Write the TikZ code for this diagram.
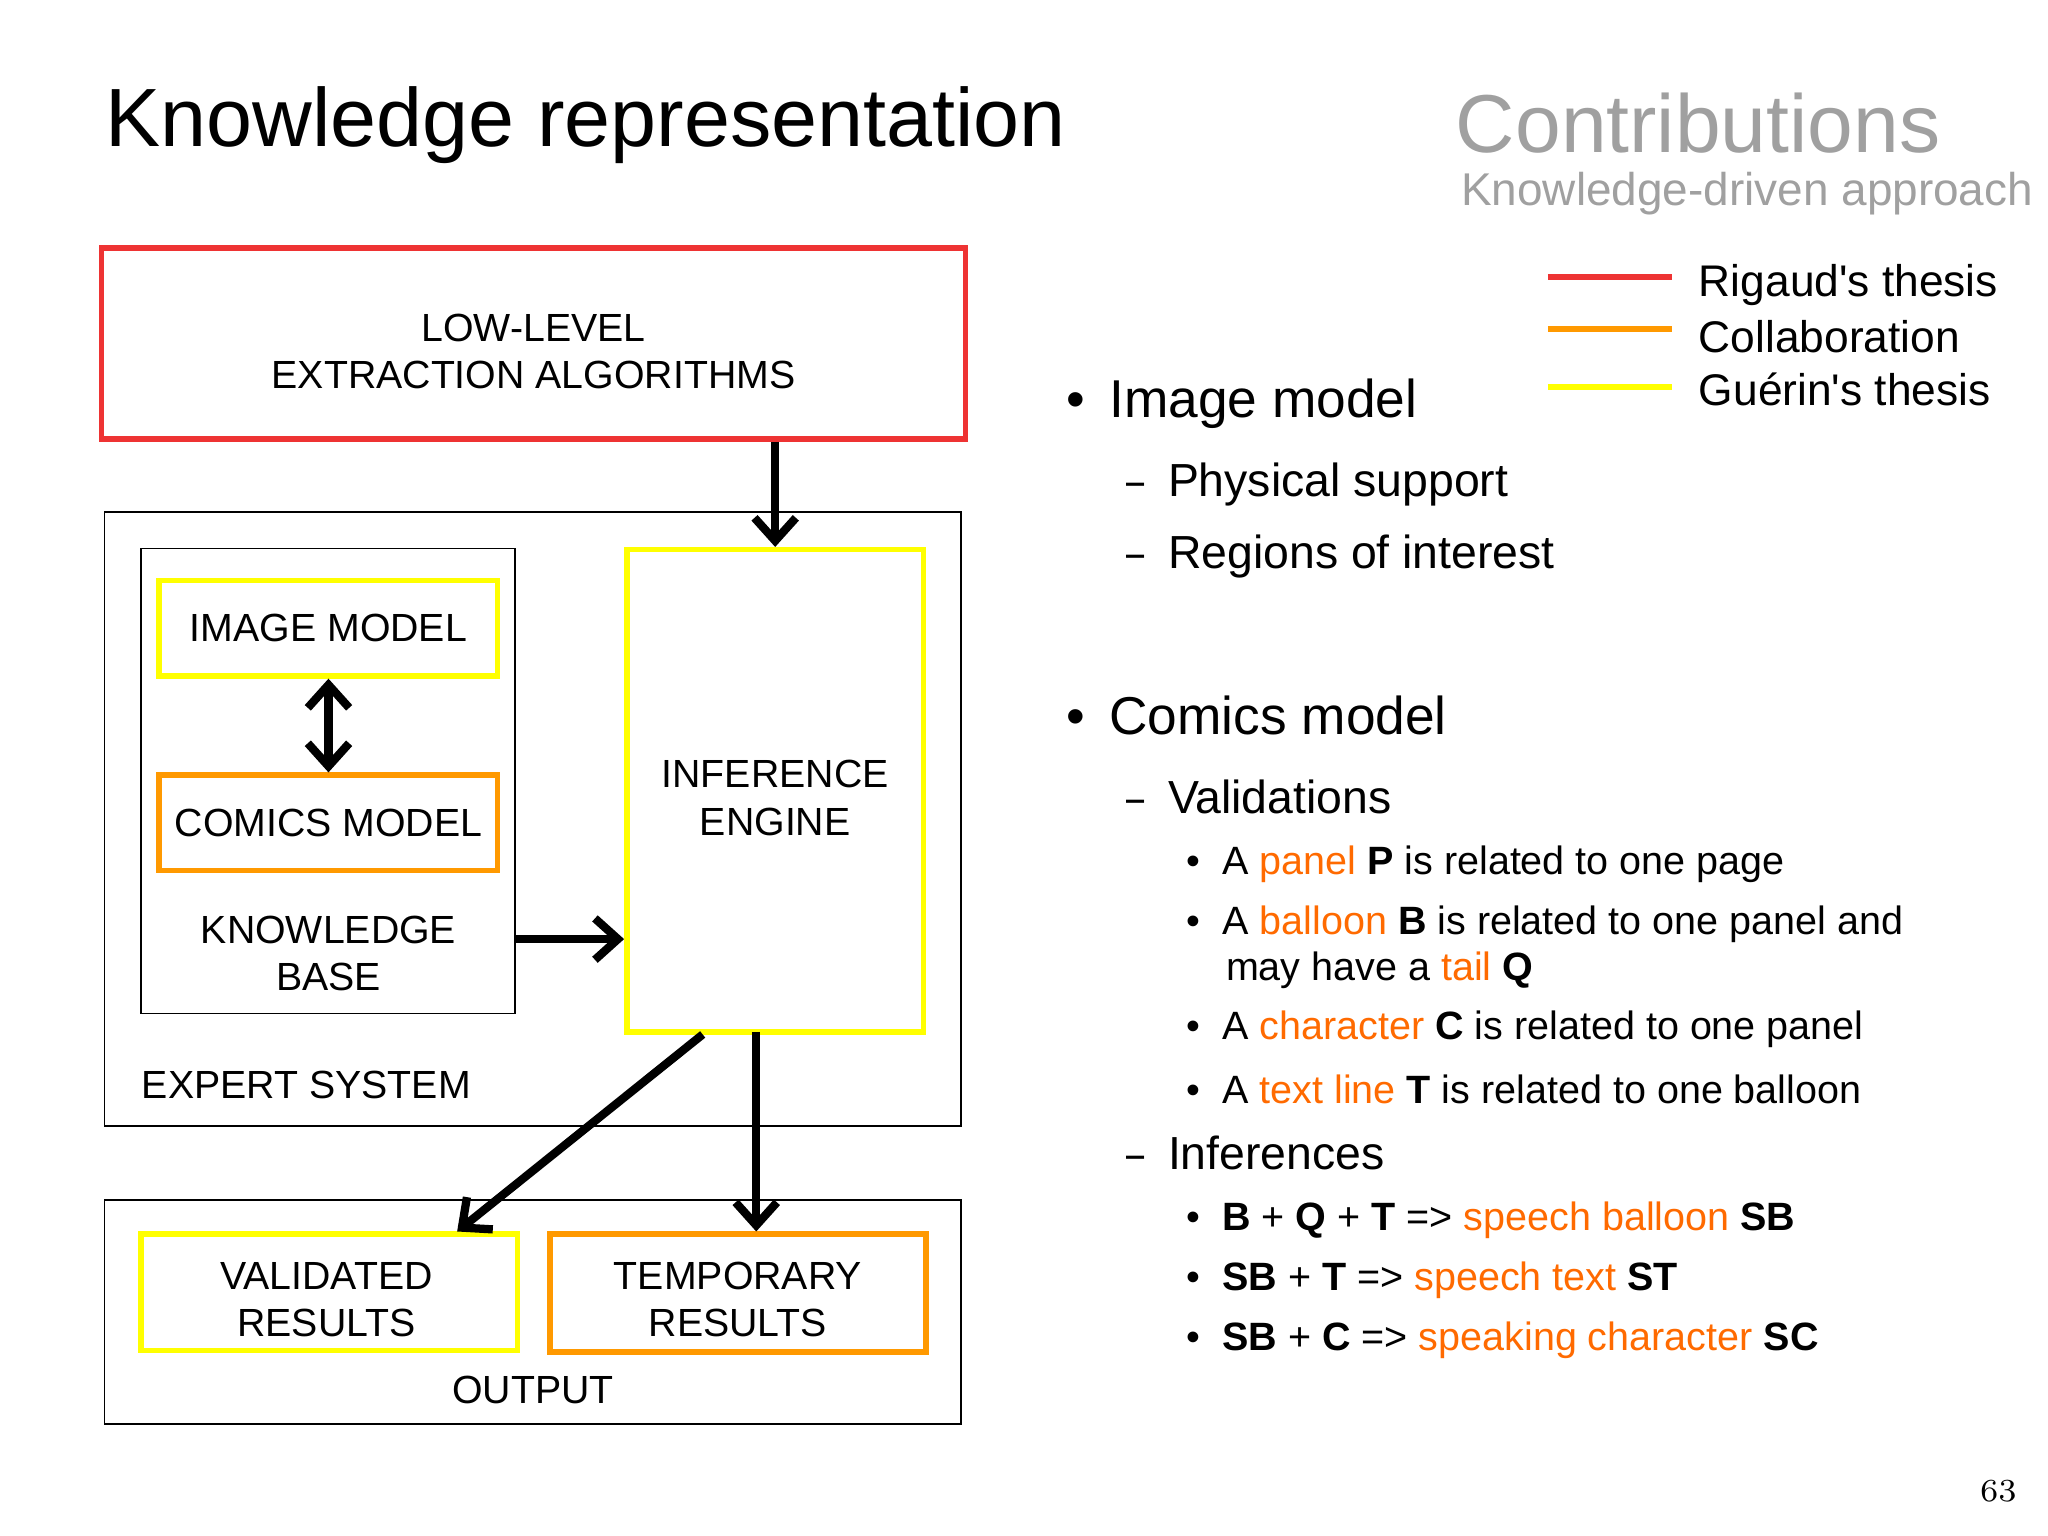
\documentclass[tikz,border=0pt]{standalone}
\usepackage{fontspec}
\setmainfont{Liberation Sans}
\usetikzlibrary{arrows.meta}
\definecolor{cred}{HTML}{EE3333}
\definecolor{cyel}{HTML}{FFFF00}
\definecolor{corg}{HTML}{FF9900}
\definecolor{cword}{HTML}{FF6A00}
\definecolor{cgray}{HTML}{A0A0A0}
\newcommand{\hl}[1]{\textcolor{cword}{#1}}
\begin{document}
\begin{tikzpicture}[x=0.01cm,y=-0.01cm,
  box/.style={draw, inner sep=0, align=center, font=\fontsize{8.55}{10.3}\selectfont},
  thinbox/.style={draw=black, line width=0.4pt},
  redbox/.style={draw=cred, line width=1.2pt},
  yelbox/.style={draw=cyel, line width=1.2pt},
  orgbox/.style={draw=corg, line width=1.2pt},
  arr/.style={line width=1.8pt, -{Straight Barb[length=5pt,width=9pt]}},
  txt/.style={anchor=west, inner sep=0},
  lvl1/.style={txt, font=\fontsize{11.6}{14}\selectfont},
  lvl2/.style={txt, font=\fontsize{10.1}{12}\selectfont},
  lvl3/.style={txt, font=\fontsize{8.6}{10.3}\selectfont, align=left},
  lab/.style={font=\fontsize{8.55}{10.3}\selectfont, inner sep=0, align=center}]
\useasboundingbox (0,0) rectangle (1568,1176);
% title
\node[txt, font=\fontsize{18}{20}\selectfont] (title) at (80,96) {Knowledge representation};
\node[txt, text=cgray, font=\fontsize{17.9}{20}\selectfont] (contrib) at (1114,94) {Contributions};
\node[txt, text=cgray, font=\fontsize{10}{12}\selectfont] (sub) at (1118,148) {Knowledge-driven approach};
% boxes
\draw[thinbox] (80,392) rectangle (736,862);
\draw[thinbox] (108,420) rectangle (394,776);
\draw[thinbox] (80,919) rectangle (736,1090);
\node[redbox, minimum width=6.61cm, minimum height=1.46cm] (low) at (408.5,263) {};
\node[lab] (lowtxt) at (408.5,269) {LOW-LEVEL\\EXTRACTION ALGORITHMS};
\node[box, yelbox, minimum width=2.59cm, minimum height=0.73cm] (img) at (251.5,481) {IMAGE MODEL};
\node[box, orgbox, minimum width=2.59cm, minimum height=0.73cm] (com) at (251.5,630) {COMICS MODEL};
\node[box, yelbox, minimum width=2.27cm, minimum height=3.69cm] (inf) at (593.5,605.5) {};
\node[lab] (inftxt) at (593.5,611) {INFERENCE\\ENGINE};
\node[yelbox, minimum width=2.88cm, minimum height=0.89cm] (val) at (252,989.5) {};
\node[lab] (valtxt) at (250,995) {VALIDATED\\RESULTS};
\node[orgbox, minimum width=2.88cm, minimum height=0.9cm] (tmp) at (565,990) {};
\node[lab] (tmptxt) at (565,995) {TEMPORARY\\RESULTS};
\node[lab] (kb) at (251.5,730) {KNOWLEDGE\\BASE};
\node[lab, anchor=west] (es) at (108,831) {EXPERT SYSTEM};
\node[lab] (out) at (408,1064) {OUTPUT};
\coordinate (kbr) at (394,719);
\coordinate (infb1) at (538,792);
\coordinate (infb2) at (579,790);
% arrows
\draw[arr] (low.south -| inf.north) -- (inf.north);
\draw[line width=1.8pt, {Straight Barb[length=5pt,width=9pt]}-{Straight Barb[length=5pt,width=9pt]}] (img.south) -- (com.north);
\draw[arr] (kbr) -- (kbr -| inf.west);
\draw[arr] (infb1) -- (val.north -| 350,0);
\draw[arr] (infb2) -- (infb2 |- tmp.north);
% legend
\draw[cred, line width=1.3pt] (1185,212) -- (1280,212);
\draw[corg, line width=1.3pt] (1185,252) -- (1280,252);
\draw[cyel, line width=1.3pt] (1185,296) -- (1280,296);
\node[txt, font=\fontsize{9.65}{11}\selectfont] (l1) at (1300,218) {Rigaud\textquotesingle s thesis};
\node[txt, font=\fontsize{9.65}{11}\selectfont] (l2) at (1300,258) {Collaboration};
\node[txt, font=\fontsize{9.65}{11}\selectfont] (l3) at (1300,298) {Guérin\textquotesingle s thesis};
% bullets
\node[lvl1] (b1) at (816,309) {•\hspace{0.45em}Image model};
\node[lvl2] (b11) at (862,371) {\scalebox{0.7}[1]{–}\hspace{0.5em}Physical support};
\node[lvl2] (b12) at (862,426) {\scalebox{0.7}[1]{–}\hspace{0.5em}Regions of interest};
\node[lvl1] (b2) at (816,548) {•\hspace{0.45em}Comics model};
\node[lvl2] (b21) at (862,610) {\scalebox{0.7}[1]{–}\hspace{0.5em}Validations};
\node[lvl3] (c1) at (908,662) {•\hspace{0.55em}A \hl{panel} \textbf{P} is related to one page};
\node[lvl3] (c2) at (908,708) {•\hspace{0.55em}A \hl{balloon} \textbf{B} is related to one panel and};
\node[lvl3] (c2b) at (938,743) {may have a \hl{tail} \textbf{Q}};
\node[lvl3] (c3) at (908,788) {•\hspace{0.55em}A \hl{character} \textbf{C} is related to one panel};
\node[lvl3] (c4) at (908,834) {•\hspace{0.55em}A \hl{text line} \textbf{T} is related to one balloon};
\node[lvl2] (b22) at (862,883) {\scalebox{0.7}[1]{–}\hspace{0.5em}Inferences};
\node[lvl3] (d1) at (908,934) {•\hspace{0.55em}\textbf{B} + \textbf{Q} + \textbf{T} => \hl{speech balloon} \textbf{SB}};
\node[lvl3] (d2) at (908,980) {•\hspace{0.55em}\textbf{SB} + \textbf{T} => \hl{speech text} \textbf{ST}};
\node[lvl3] (d3) at (908,1026) {•\hspace{0.55em}\textbf{SB} + \textbf{C} => \hl{speaking character} \textbf{SC}};
\node[inner sep=0, font=\fontfamily{lmr}\fontsize{7}{8}\selectfont] (pg) at (1530,1142) {63};
\end{tikzpicture}
\end{document}
